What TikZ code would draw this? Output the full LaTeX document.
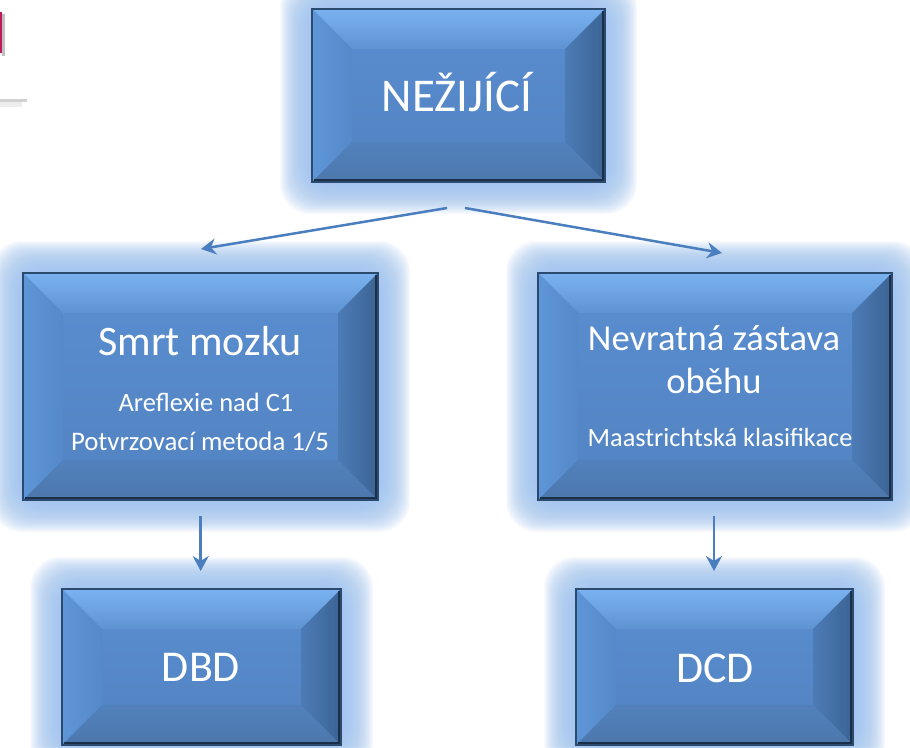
\documentclass[tikz,border=0pt]{standalone}
\usepackage{fontspec}
\setmainfont{Carlito}
\usetikzlibrary{calc,arrows.meta}
\definecolor{glowc}{HTML}{A2C6F0}
\definecolor{topA}{HTML}{7AB2F0}
\definecolor{topB}{HTML}{8EC3F8}
\definecolor{topC}{HTML}{5E93D2}
\definecolor{leftA}{HTML}{5E96D8}
\definecolor{leftB}{HTML}{5589C8}
\definecolor{midA}{HTML}{5A8ED0}
\definecolor{midB}{HTML}{5283C2}
\definecolor{rightA}{HTML}{4C7BB6}
\definecolor{rightB}{HTML}{3C6494}
\definecolor{botA}{HTML}{5181BC}
\definecolor{botB}{HTML}{4C77AC}
\definecolor{bordc}{HTML}{2C4A6E}
\definecolor{shadc}{HTML}{1C2F48}
\definecolor{arrc}{HTML}{4A7EBE}
\definecolor{magc}{HTML}{C0185C}
\tikzset{
  boxn/.style={rectangle, inner sep=0pt, outer sep=0pt},
  txt/.style={text=white, anchor=base, inner sep=0pt, outer sep=0pt},
  conn/.style={draw=arrc, line width=2.5pt, -{Stealth[length=15pt,width=16pt,inset=5pt]}},
}
\newcommand\boxglow[1]{%
  \foreach \r in {32,31,...,1}{%
    \fill[glowc, opacity=0.075, rounded corners=30pt] ($(#1.north west)+(-\r pt,\r pt)$) rectangle ($(#1.south east)+(\r pt,-\r pt)$);
  }%
}
\newcommand\boxbevel[1]{%
  \path (#1.north west) coordinate (#1-A) (#1.north east) coordinate (#1-B)
        (#1.south east) coordinate (#1-C) (#1.south west) coordinate (#1-D)
        ($(#1.north west)+(40pt,-40pt)$) coordinate (#1-a)
        ($(#1.north east)+(-40pt,-40pt)$) coordinate (#1-b)
        ($(#1.south east)+(-40pt,40pt)$) coordinate (#1-c)
        ($(#1.south west)+(40pt,40pt)$) coordinate (#1-d);
  \shade[top color=midA, bottom color=midB] (#1-A) rectangle (#1-C);
  \shade[top color=topA, middle color=topB, bottom color=topC] (#1-A)--(#1-B)--(#1-b)--(#1-a)--cycle;
  \shade[left color=leftA, right color=leftB] (#1-A)--(#1-a)--(#1-d)--(#1-D)--cycle;
  \shade[left color=rightA, right color=rightB] (#1-B)--(#1-C)--(#1-c)--(#1-b)--cycle;
  \shade[top color=botA, bottom color=botB] (#1-D)--(#1-d)--(#1-c)--(#1-C)--cycle;
  \draw[shadc, line width=2pt] ($(#1-B)+(-2.5pt,-2pt)$)--($(#1-C)+(-2.5pt,2.5pt)$)--($(#1-D)+(2pt,2.5pt)$);
  \draw[bordc, line width=2.5pt] (#1-A) rectangle (#1-C);
}
\begin{document}
\begin{tikzpicture}[x=1pt,y=-1pt]
\clip (0,0) rectangle (910,747);
\fill[white] (0,0) rectangle (910,747);
% slide remnants at top left
\fill[black!25] (1.5,14) rectangle (4.5,56);
\fill[magc] (0,12) rectangle (1.6,53);
\fill[black!18] (0,99) rectangle (27,102);
\fill[black!7] (0,102) rectangle (22,107);
% box nodes
\node[boxn, minimum width=293pt, minimum height=173pt] (top) at (458.5,95.5) {};
\node[boxn, minimum width=355pt, minimum height=227pt] (brain) at (200.5,386.5) {};
\node[boxn, minimum width=354pt, minimum height=227pt] (circ) at (715,386.5) {};
\node[boxn, minimum width=279pt, minimum height=156pt] (dbd) at (201.5,667) {};
\node[boxn, minimum width=277pt, minimum height=156pt] (dcd) at (714.5,667) {};
% glows
\boxglow{top}\boxglow{brain}\boxglow{circ}\boxglow{dbd}\boxglow{dcd}
% bevel boxes
\boxbevel{top}\boxbevel{brain}\boxbevel{circ}\boxbevel{dbd}\boxbevel{dcd}
% connectors
\coordinate (s1) at (447,208);
\coordinate (e1) at (201,249);
\coordinate (s2) at (465,208);
\coordinate (e2) at (722,253);
\coordinate (s3) at (200.7,516);
\coordinate (e3) at (200.7,571);
\coordinate (s4) at (714,516);
\coordinate (e4) at (714,571);
\draw[conn] (s1) -- (e1);
\draw[conn] (s2) -- (e2);
\draw[conn] (s3) -- (e3);
\draw[conn] (s4) -- (e4);
% texts
\node[txt, font=\fontsize{47}{56}\selectfont] (t0) at (457,111) {NEŽIJÍCÍ};
\node[txt, font=\fontsize{42}{50}\selectfont] (t1) at (200,355) {Smrt mozku};
\node[txt, font=\fontsize{26.5}{31}\selectfont] (t2) at (206,411.7) {Areflexie nad C1};
\node[txt, font=\fontsize{26.8}{32}\selectfont] (t3) at (200,450) {Potvrzovací metoda 1/5};
\node[txt, font=\fontsize{36.6}{44}\selectfont] (t4) at (714,350) {Nevratná zástava};
\node[txt, font=\fontsize{36.6}{44}\selectfont] (t5) at (714,393) {oběhu};
\node[txt, font=\fontsize{26.3}{31}\selectfont] (t6) at (720,446.7) {Maastrichtská klasifikace};
\node[txt, font=\fontsize{44}{52}\selectfont] (t7) at (201,681.7) {DBD};
\node[txt, font=\fontsize{44}{52}\selectfont] (t8) at (715,682) {DCD};
\end{tikzpicture}
\end{document}
